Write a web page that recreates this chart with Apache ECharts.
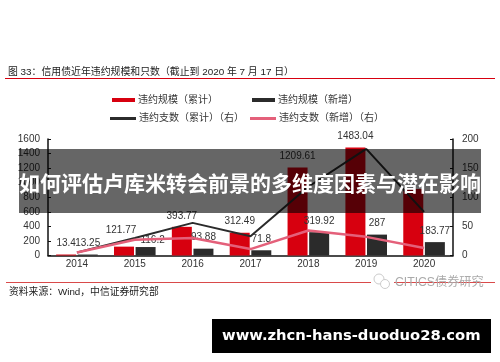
<!DOCTYPE html>
<html><head><meta charset="utf-8">
<style>html,body{margin:0;padding:0;background:#fff}#c{width:500px;height:362px}</style>
<script src="https://cdn.jsdelivr.net/npm/echarts@6/dist/echarts.min.js"></script>
</head><body><div id="c"></div>
<script>
const categories = ['2014','2015','2016','2017','2018','2019','2020'];
const scaleTotal = [13.4,121.77,393.77,312.49,1209.61,1483.04,913];
const scaleNew = [13.25,116.2,93.88,71.8,319.92,287,183.77];
const countTotal = [5,30,56,33,118,183,75];
const countNew = [5,27,30,11,43,32,13];
const totalLabels = ['13.4','121.77','393.77','312.49','1209.61','1483.04',''];
const newLabels = ['13.25','116.2','93.88','71.8','319.92','287','183.77'];
const names = ['违约规模（累计）','违约规模（新增）','违约支数（累计）（右）','违约支数（新增）（右）'];
const leftTicks = [0,1600,200], rightTicks = [0,200,50];
const cjk = '"Liberation Sans","Noto Sans CJK SC",sans-serif';
const lab = {show:true,position:'top',distance:6,color:'#333',fontSize:10,fontFamily:cjk};
function leg(name,left,top,isLine){
  return {data:[name],left,top,itemWidth:isLine?26:23,itemHeight:isLine?3:4,itemGap:0,padding:0,
    icon:'rect',textStyle:{color:'#333',fontSize:10,fontFamily:cjk,padding:[0,0,0,-2]}};
}
const chart = echarts.init(document.getElementById('c'),null,{renderer:'canvas'});
const axisLine={show:true,lineStyle:{color:'#111',width:1.5}};
const axisFmt = v => String(v);
chart.setOption({
  animation:false,
  backgroundColor:'#fff',
  grid:{left:48,right:47,top:139,bottom:106.5},
  legend:[leg(names[0],112,95,false),leg(names[1],252,95,false),leg(names[2],110,113.5,true),leg(names[3],250,113.5,true)],
  xAxis:{type:'category',data:categories,axisLine,axisTick:{show:false},
    axisLabel:{color:'#333',fontSize:10,fontFamily:cjk,margin:4}},
  yAxis:[
    {type:'value',min:leftTicks[0],max:leftTicks[1],interval:leftTicks[2],splitLine:{show:false},axisLine,
      axisTick:{show:true,inside:true,length:3,lineStyle:{color:'#111'}},
      axisLabel:{color:'#333',fontSize:10,fontFamily:cjk,margin:8,formatter:axisFmt}},
    {type:'value',min:rightTicks[0],max:rightTicks[1],interval:rightTicks[2],position:'right',splitLine:{show:false},axisLine,
      axisTick:{show:true,inside:true,length:3,lineStyle:{color:'#111'}},
      axisLabel:{color:'#333',fontSize:10,fontFamily:cjk,margin:9,formatter:axisFmt}}
  ],
  series:[
    {name:names[0],type:'bar',data:scaleTotal.map((v,i)=>i===1?{value:v,label:{offset:[-3,-5]}}:v),barWidth:20,barGap:'8%',itemStyle:{color:'#d7000f'},
      label:{...lab,formatter:p=>totalLabels[p.dataIndex]}},
    {name:names[1],type:'bar',data:scaleNew.map((v,i)=>i===1?{value:v,label:{offset:[7,4]}}:v),barWidth:20,itemStyle:{color:'#2b2b2b'},
      label:{...lab,formatter:p=>newLabels[p.dataIndex]}},
    {name:names[2],type:'line',yAxisIndex:1,data:countTotal,symbol:'none',lineStyle:{color:'#2b2b2b',width:2}, itemStyle:{color:'#2b2b2b'}},
    {name:names[3],type:'line',yAxisIndex:1,data:countNew,symbol:'none',lineStyle:{color:'#e4607a',width:2.5}, itemStyle:{color:'#e4607a'}}
  ],
  graphic:[
    {type:'text',left:8,top:67,style:{text:'图 33：信用债近年违约规模和只数（截止到 2020 年 7 月 17 日）',fill:'#222',font:'9.9px '+cjk}},
    {type:'rect',shape:{x:5,y:78,width:490,height:1},style:{fill:'#d7000f'}},
    {type:'rect',shape:{x:6,y:282,width:489,height:1},style:{fill:'#d94a4a'}},
    {type:'text',left:9,top:287,style:{text:'资料来源：Wind，中信证券研究部',fill:'#222',font:'9.8px '+cjk}},
    {type:'rect',z:5,shape:{x:371,y:274,width:23,height:16},style:{fill:'#fff'}},
    {type:'circle',z:6,shape:{cx:379,cy:279,r:5},style:{fill:'#fff',stroke:'#ccc',lineWidth:1}},
    {type:'circle',z:6,shape:{cx:385,cy:284,r:4.5},style:{fill:'#fff',stroke:'#ccc',lineWidth:1}},
    {type:'text',z:6,left:395,top:277,style:{text:'CITICS债券研究',fill:'#aaa',font:'12.2px '+cjk}},
    {type:'rect',z:50,shape:{x:19,y:149,width:462,height:64},style:{fill:'rgba(0,0,0,0.6)'}},
    {type:'text',z:51,left:19,top:173,style:{text:'如何评估卢库米转会前景的多维度因素与潜在影响',fill:'#fff',font:'bold 21px "Noto Sans CJK SC",sans-serif'}},
    {type:'rect',z:50,shape:{x:212,y:319,width:279,height:34},style:{fill:'#000'}},
    {type:'text',z:51,left:222,top:329,style:{text:'www.zhcn-hans-duoduo28.com',fill:'#fff',font:'bold 14.75px "DejaVu Sans",sans-serif'}}
  ]
});
</script></body></html>
